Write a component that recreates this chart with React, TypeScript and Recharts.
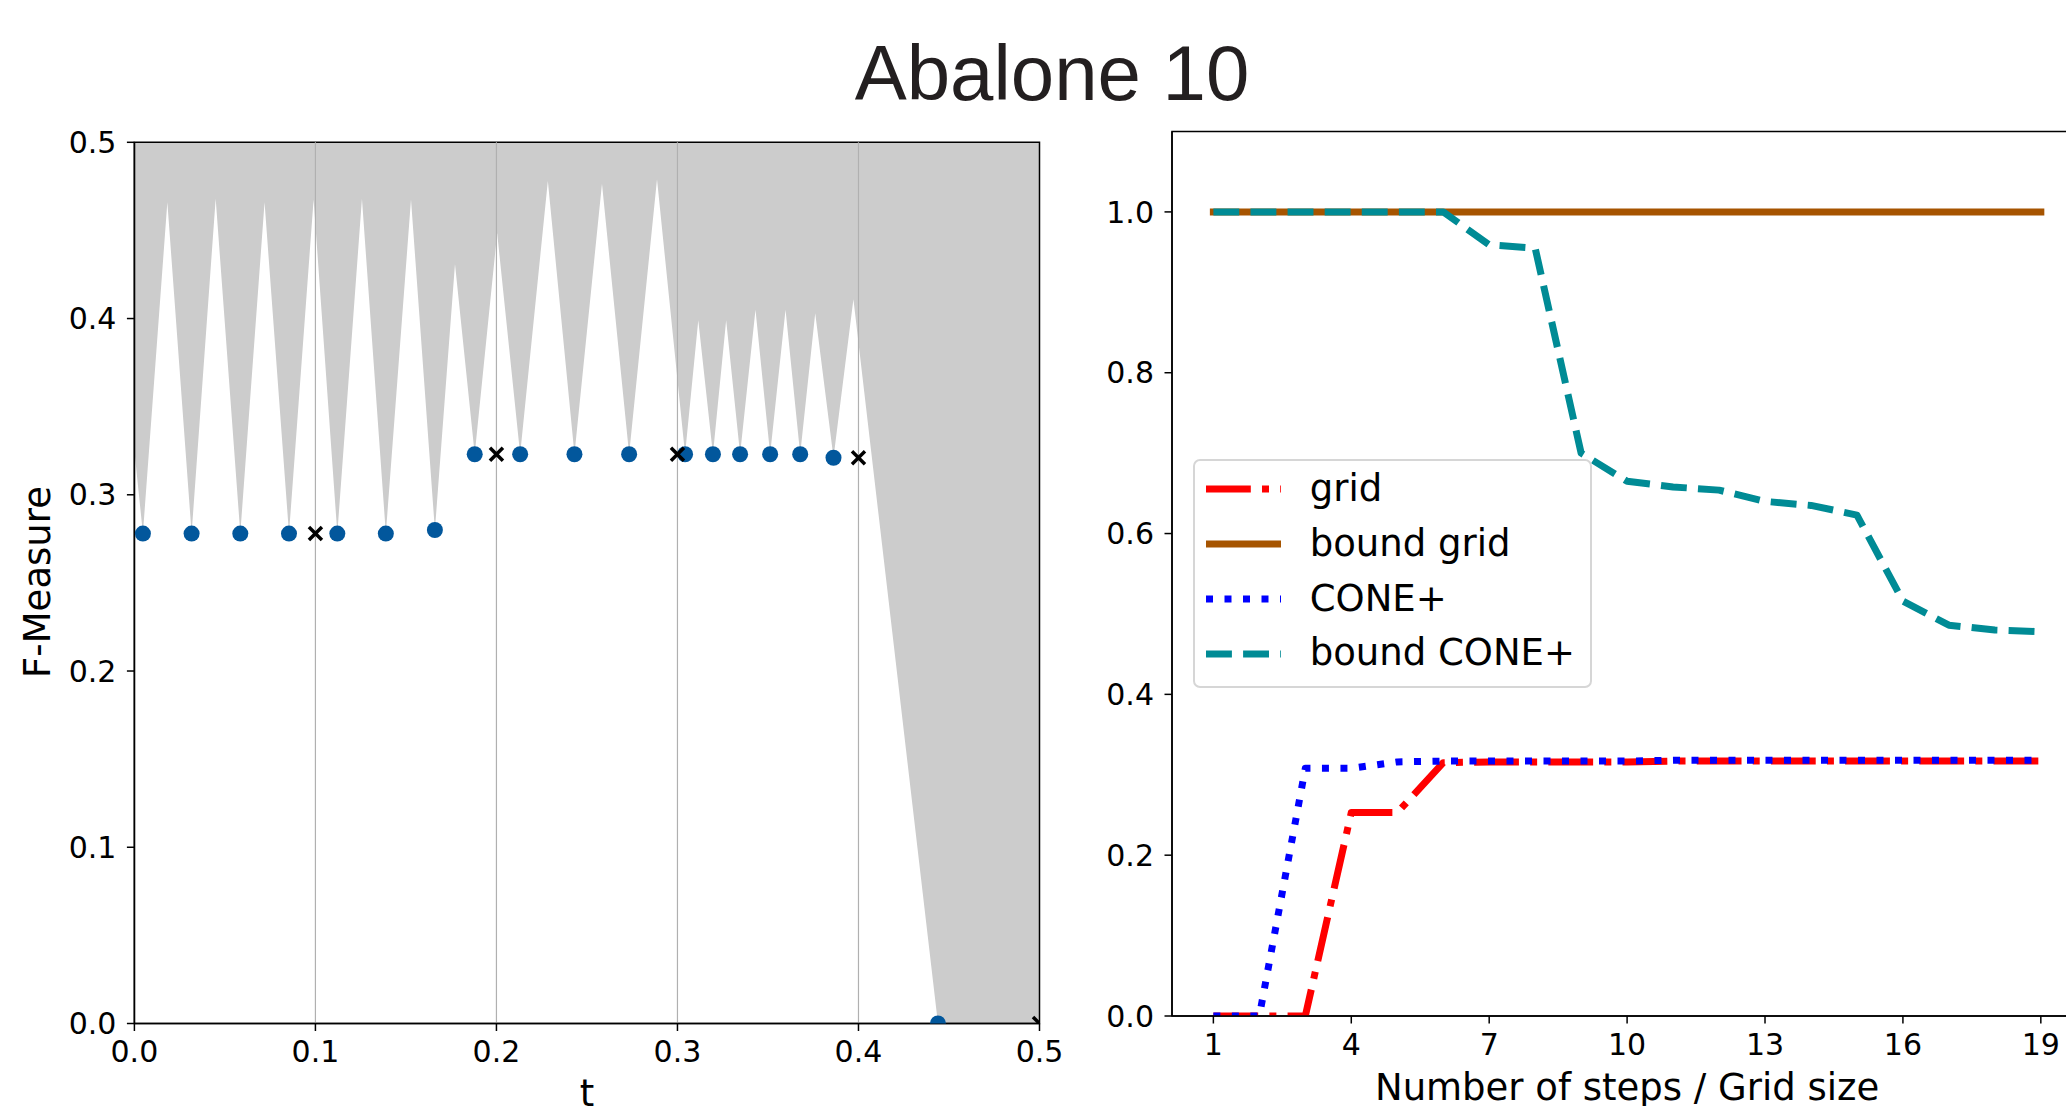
import {
  ComposedChart,
  LineChart,
  Line,
  Area,
  Scatter,
  XAxis,
  YAxis,
  ReferenceLine,
  ReferenceArea,
  Legend,
} from 'recharts'

const FONT = 'DejaVu Sans'

// ---- left panel: F-Measure against threshold t ----
const T_TICKS = [0, 0.1, 0.2, 0.3, 0.4, 0.5]
const F_TICKS = [0, 0.1, 0.2, 0.3, 0.4, 0.5]
const GRID_T = [0.1, 0.2, 0.3, 0.4]

// lower edge of the grey region (it is filled up to the top of the axis)
const EDGE_T = [
  0, 0.0047, 0.0182, 0.0316, 0.0449, 0.0585, 0.0719, 0.0854, 0.099, 0.1121,
  0.1257, 0.1389, 0.1528, 0.166, 0.1771, 0.188, 0.2004, 0.2131, 0.2284, 0.2431,
  0.2583, 0.2733, 0.2887, 0.3042, 0.3115, 0.3196, 0.3269, 0.3346, 0.3431, 0.3512,
  0.3597, 0.3678, 0.3761, 0.3862, 0.3972, 0.4439, 0.5,
]
const EDGE_F = [
  0.325, 0.278, 0.466, 0.278, 0.468, 0.278, 0.466, 0.278, 0.4675, 0.278,
  0.468, 0.278, 0.4675, 0.28, 0.431, 0.323, 0.4485, 0.323, 0.478, 0.323,
  0.4765, 0.323, 0.479, 0.323, 0.399, 0.323, 0.399, 0.323, 0.405, 0.323,
  0.405, 0.323, 0.403, 0.321, 0.411, 0, 0,
]
const EDGE_TOP = 0.5

const DOT_T = [
  0.0047, 0.0316, 0.0585, 0.0854, 0.1121, 0.1389, 0.166, 0.188, 0.2131,
  0.2431, 0.2733, 0.3042, 0.3196, 0.3346, 0.3512, 0.3678, 0.3862, 0.4439,
]
const DOT_F = [
  0.278, 0.278, 0.278, 0.278, 0.278, 0.278, 0.28, 0.323, 0.323,
  0.323, 0.323, 0.323, 0.323, 0.323, 0.323, 0.323, 0.321, 0,
]

const CROSS_T = [0.1, 0.2, 0.3, 0.4, 0.5]
const CROSS_F = [0.278, 0.323, 0.323, 0.321, 0]

// ---- right panel: number of steps / grid size ----
const STEPS = [1, 2, 3, 4, 5, 6, 7, 8, 9, 10, 11, 12, 13, 14, 15, 16, 17, 18, 19]
const STEP_TICKS = [1, 4, 7, 10, 13, 16, 19]
const VALUE_TICKS = [0, 0.2, 0.4, 0.6, 0.8, 1.0]
const GRID = [0, 0, 0, 0.253, 0.253, 0.315, 0.316, 0.316, 0.316, 0.316, 0.317, 0.317, 0.317, 0.317, 0.317, 0.317, 0.317, 0.317, 0.317]
const BOUND_GRID = [1, 1, 1, 1, 1, 1, 1, 1, 1, 1, 1, 1, 1, 1, 1, 1, 1, 1, 1]
const CONE = [0, 0, 0.308, 0.308, 0.316, 0.317, 0.317, 0.317, 0.317, 0.317, 0.318, 0.318, 0.318, 0.318, 0.318, 0.318, 0.318, 0.318, 0.318]
const BOUND_CONE = [1, 1, 1, 1, 1, 1, 0.959, 0.955, 0.7, 0.665, 0.658, 0.654, 0.64, 0.635, 0.623, 0.516, 0.486, 0.48, 0.478]

const SERIES = [
  { key: 'grid', name: 'grid', color: '#ff0000', dash: '44.8 11.2 7 11.2', cap: 'butt' },
  { key: 'boundGrid', name: 'bound grid', color: '#a65400', dash: undefined, cap: 'square' },
  { key: 'cone', name: 'CONE+', color: '#0000ff', dash: '7 11.5', cap: 'butt' },
  { key: 'boundCone', name: 'bound CONE+', color: '#008b95', dash: '25.9 11.2', cap: 'butt' },
] as const

const edgeData = EDGE_T.map((t, i) => ({ t, band: [EDGE_F[i], EDGE_TOP] }))
const dotData = DOT_T.map((t, i) => ({ t, f: DOT_F[i] }))
const crossData = CROSS_T.map((t, i) => ({ t, f: CROSS_F[i] }))
const stepData = STEPS.map((n, i) => ({
  n,
  grid: GRID[i],
  boundGrid: BOUND_GRID[i],
  cone: CONE[i],
  boundCone: BOUND_CONE[i],
}))

const tickStyle = { fill: '#000', fontSize: 30, fontFamily: FONT }
const axisStroke = { stroke: '#000', strokeWidth: 1.5 }
const fmt = (v: number) => v.toFixed(1)

const Dot = (p: any) => <circle cx={p.cx} cy={p.cy} r={8} fill="#02579c" />
const Cross = (p: any) => (
  <g stroke="#000" strokeWidth={3.5}>
    <line x1={p.cx - 6.5} y1={p.cy - 6.5} x2={p.cx + 6.5} y2={p.cy + 6.5} />
    <line x1={p.cx - 6.5} y1={p.cy + 6.5} x2={p.cx + 6.5} y2={p.cy - 6.5} />
  </g>
)

const ThresholdPanel = () => (
  <ComposedChart
    width={1100}
    height={1106}
    data={edgeData}
    margin={{ top: 142.3, right: 60.5, bottom: 32.5, left: 0 }}
  >
    <XAxis
      type="number"
      dataKey="t"
      domain={[0, 0.5]}
      ticks={T_TICKS}
      interval={0}
      allowDataOverflow
      tickFormatter={fmt}
      height={50}
      tickSize={7.5}
      tickMargin={10}
      tick={tickStyle}
      tickLine={axisStroke}
      axisLine={axisStroke}
      label={{ value: 't', position: 'bottom', offset: 6.5, fill: '#000', fontSize: 37, fontFamily: FONT }}
    />
    <YAxis
      type="number"
      domain={[0, 0.5]}
      ticks={F_TICKS}
      interval={0}
      allowDataOverflow
      tickFormatter={fmt}
      width={134.4}
      tickSize={7.5}
      tickMargin={10.5}
      tick={tickStyle}
      tickLine={axisStroke}
      axisLine={axisStroke}
    />
    <Area
      type="linear"
      dataKey="band"
      fill="#cccccc"
      fillOpacity={1}
      stroke="none"
      activeDot={false}
      isAnimationActive={false}
    />
    {GRID_T.map((t) => (
      <ReferenceLine key={t} x={t} stroke="#b0b0b0" strokeWidth={1.2} />
    ))}
    <Scatter data={dotData} dataKey="f" shape={Dot} isAnimationActive={false} />
    <Scatter data={crossData} dataKey="f" shape={Cross} isAnimationActive={false} />
    <ReferenceArea x1={0} x2={0.5} y1={0} y2={0.5} fill="none" stroke="#000" strokeWidth={1.5} />
  </ComposedChart>
)

const LegendBox = () => (
  <div
    style={{
      position: 'relative',
      width: 399,
      height: 229,
      boxSizing: 'border-box',
      border: '2px solid #d6d6d6',
      borderRadius: 7,
      background: 'rgba(255,255,255,0.8)',
      fontFamily: FONT,
      fontSize: 37,
      color: '#000',
    }}
  >
    {SERIES.map((s, i) => (
      <div
        key={s.key}
        style={{
          position: 'absolute',
          left: 0,
          top: 28.3 + i * 54.8 - 27.4,
          height: 54.8,
          width: 395,
          display: 'flex',
          alignItems: 'center',
        }}
      >
        <svg width={80} height={14} style={{ marginLeft: 11.3 }}>
          <line
            x1={s.cap === 'square' ? 3.5 : 0}
            x2={s.cap === 'square' ? 71.5 : 75}
            y1={7}
            y2={7}
            stroke={s.color}
            strokeWidth={7}
            strokeDasharray={s.dash}
            strokeLinecap={s.cap}
          />
        </svg>
        <span style={{ position: 'absolute', left: 115, lineHeight: '54.8px', whiteSpace: 'nowrap' }}>{s.name}</span>
      </div>
    ))}
  </div>
)

const StepsPanel = () => (
  <LineChart
    width={1000}
    height={1106}
    data={stepData}
    margin={{ top: 131.5, right: 17.8, bottom: 40, left: 0 }}
  >
    <XAxis
      type="number"
      dataKey="n"
      domain={[0.1, 19.9]}
      ticks={STEP_TICKS}
      interval={0}
      allowDataOverflow
      height={50}
      tickSize={7.5}
      tickMargin={10}
      tick={tickStyle}
      tickLine={axisStroke}
      axisLine={axisStroke}
      label={{ value: 'Number of steps / Grid size', position: 'bottom', offset: 8, fill: '#000', fontSize: 37, fontFamily: FONT }}
    />
    <YAxis
      type="number"
      domain={[0, 1.1]}
      ticks={VALUE_TICKS}
      interval={0}
      allowDataOverflow
      tickFormatter={fmt}
      width={72}
      tickSize={7.5}
      tickMargin={10.5}
      tick={tickStyle}
      tickLine={axisStroke}
      axisLine={axisStroke}
    />
    <ReferenceArea x1={0.1} x2={19.9} y1={0} y2={1.1} fill="none" stroke="#000" strokeWidth={1.5} />
    {SERIES.map((s) => (
      <Line
        key={s.key}
        type="linear"
        dataKey={s.key}
        name={s.name}
        stroke={s.color}
        strokeWidth={7}
        strokeDasharray={s.dash}
        strokeLinecap={s.cap}
        strokeLinejoin="round"
        dot={false}
        activeDot={false}
        isAnimationActive={false}
      />
    ))}
    <Legend
      layout="horizontal"
      verticalAlign="middle"
      align="center"
      wrapperStyle={{ left: 92.7, top: 459, width: 399, height: 229 }}
      content={() => <LegendBox />}
    />
  </LineChart>
)

export default function App() {
  return (
    <div
      style={{
        position: 'absolute',
        left: 0,
        top: 0,
        width: 2066,
        height: 1106,
        overflow: 'hidden',
        background: '#fff',
      }}
    >
      <svg width={2066} height={1106} style={{ position: 'absolute', left: 0, top: 0 }}>
        <text x={1052} y={100} textAnchor="middle" fontFamily="Liberation Sans" fontSize={78} fill="#231f20">
          Abalone 10
        </text>
        <text transform="translate(50 582) rotate(-90)" textAnchor="middle" fontFamily={FONT} fontSize={37} fill="#000">
          F-Measure
        </text>
      </svg>
      <div style={{ position: 'absolute', left: 0, top: 0 }}>
        <ThresholdPanel />
      </div>
      <div style={{ position: 'absolute', left: 1100, top: 0 }}>
        <StepsPanel />
      </div>
    </div>
  )
}
